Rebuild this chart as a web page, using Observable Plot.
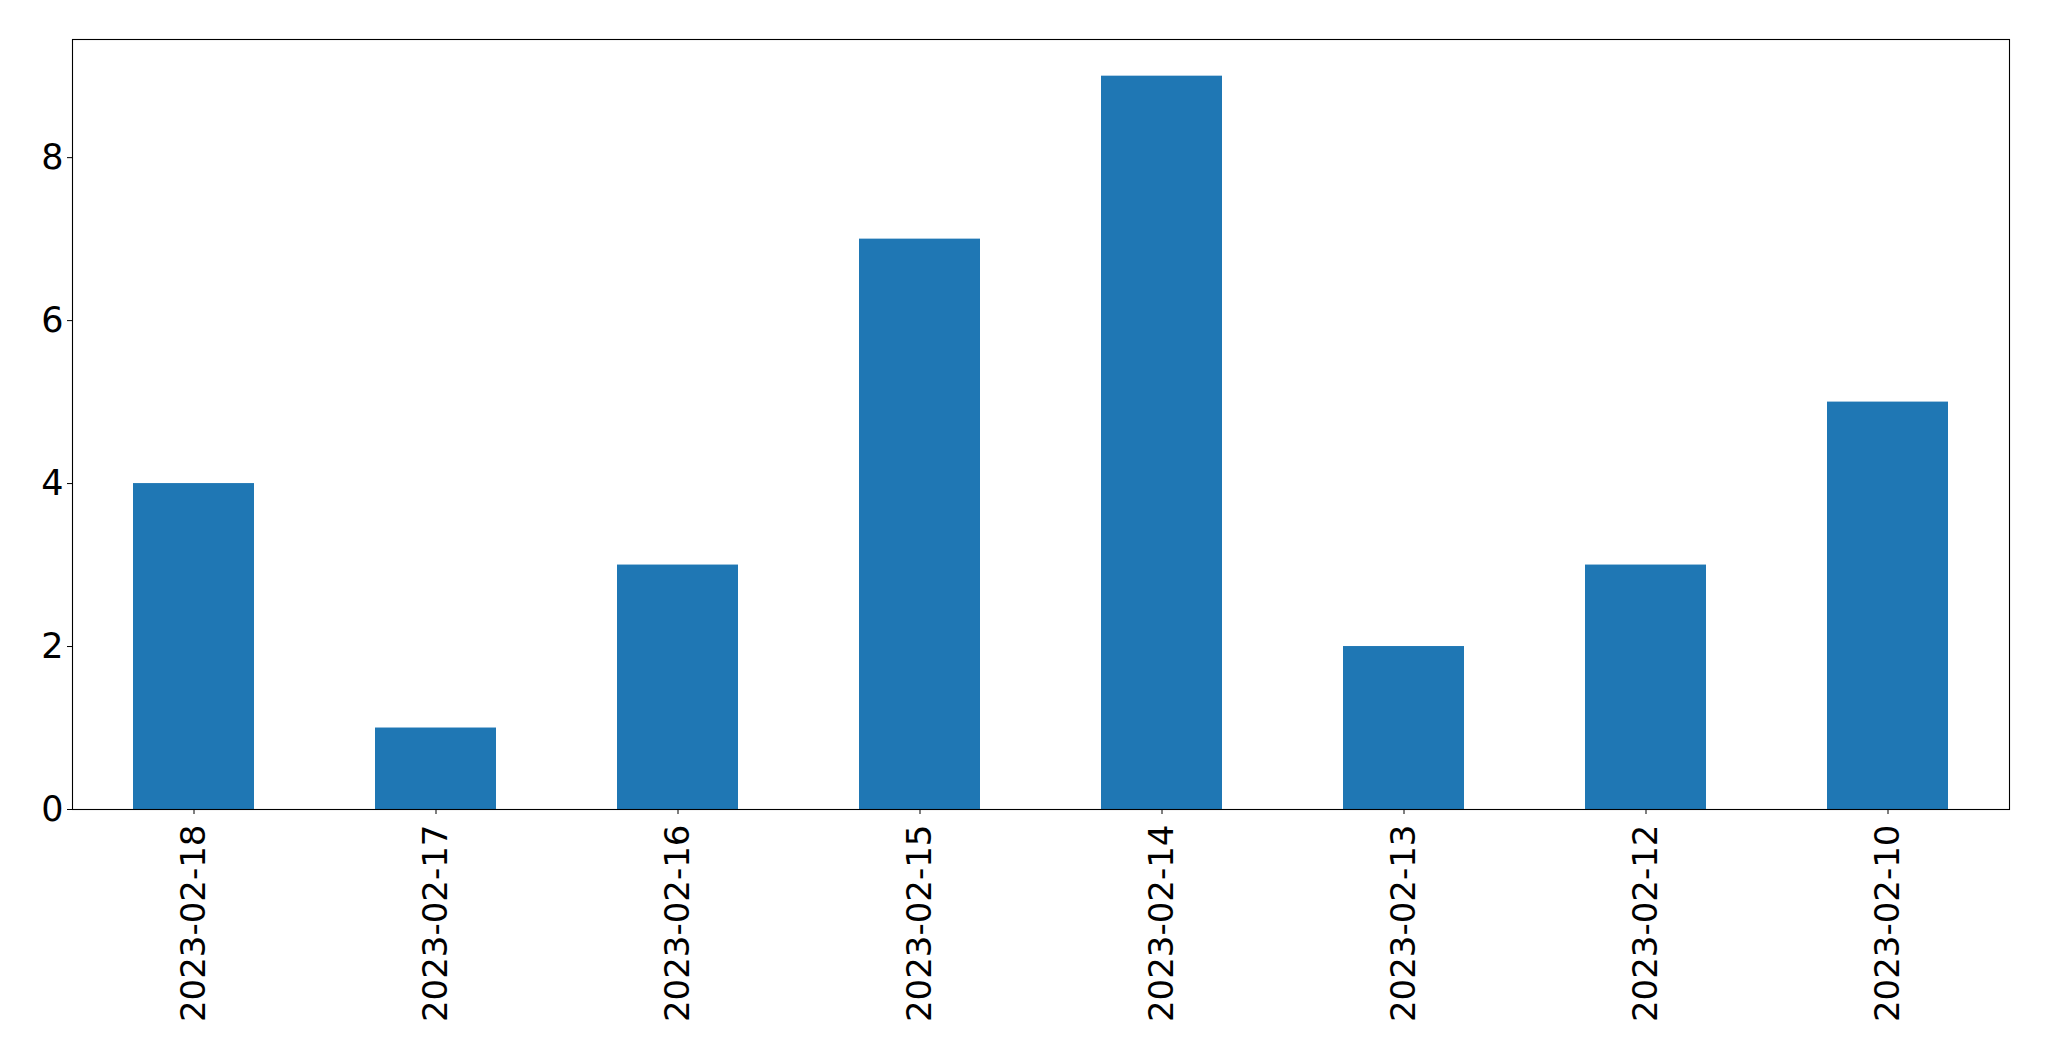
<!DOCTYPE html>
<html>
<head>
<meta charset="utf-8">
<script src="https://cdn.jsdelivr.net/npm/d3@7"></script>
<script src="https://cdn.jsdelivr.net/npm/@observablehq/plot@0.6"></script>
<style>
  html, body { margin: 0; padding: 0; background: #fff; }
  #chart svg { display: block; }
</style>
</head>
<body>
<div id="chart"></div>
<script>
const dates = ["2023-02-18", "2023-02-17", "2023-02-16", "2023-02-15", "2023-02-14", "2023-02-13", "2023-02-12", "2023-02-10"];
const counts = [4, 1, 3, 7, 9, 2, 3, 5];
const yTicks = [0, 2, 4, 6, 8];

const data = dates.map((d, i) => ({date: d, count: counts[i]}));

const chart = Plot.plot({
  width: 2049,
  height: 1061,
  marginLeft: 72,
  marginRight: 40,
  marginTop: 39,
  marginBottom: 252,
  style: {fontFamily: "DejaVu Sans", background: "#fff"},
  x: {domain: dates, paddingInner: 0.5, paddingOuter: 0.25},
  y: {domain: [0, 9.45]},
  marks: [
    Plot.barY(data, {x: "date", y: "count", fill: "#1f77b4"}),
    Plot.frame({stroke: "#000", strokeWidth: 1.1}),
    Plot.axisY({ticks: yTicks, tickSize: 5, tickPadding: 4, fontSize: 35, label: null, stroke: "#000", color: "#000"}),
    Plot.axisX({tickSize: 5, tickPadding: 10, fontSize: 34, tickRotate: -90, label: null, color: "#000"})
  ]
});
document.getElementById("chart").appendChild(chart);
</script>
</body>
</html>
